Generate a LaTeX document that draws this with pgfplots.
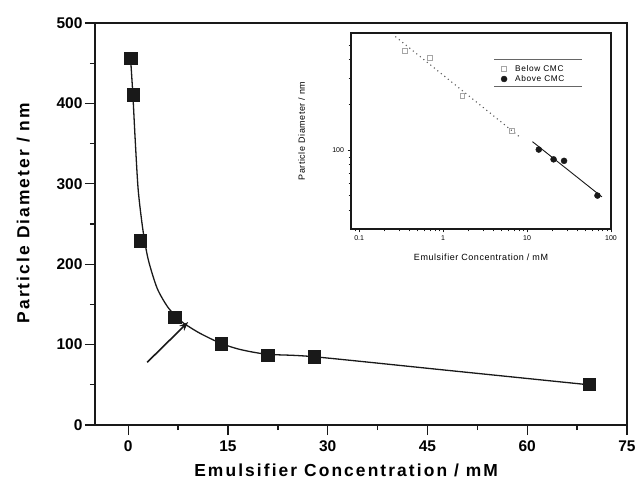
\documentclass[border=0pt]{standalone}
\usepackage{pgfplots}
\pgfplotsset{compat=1.18}
\usepackage{fontspec}
\setmainfont{Liberation Sans}
\usetikzlibrary{arrows.meta}
\definecolor{ink}{gray}{0.1}
\begin{document}
\begin{tikzpicture}
\begin{axis}[
  name=main, at={(0,0)}, anchor=south west,
  scale only axis, width=532pt, height=402pt,
  xmin=-5, xmax=75, ymin=0, ymax=500,
  xtick={0,15,30,45,60,75}, minor xtick={7.5,22.5,37.5,52.5,67.5},
  ytick={0,100,200,300,400,500}, minor ytick={50,150,250,350,450},
  tick align=outside, tick pos=left,
  major tick length=10pt, minor tick length=5pt,
  axis line style={line width=1.6pt, ink},
  every tick/.style={line width=1.3pt, ink},
  /pgf/number format/assume math mode=true,
  ticklabel style={font=\fontsize{15.5}{18}\selectfont\bfseries},
  xticklabel style={yshift=-2pt},
  yticklabel style={xshift=1pt},
  xlabel={\addfontfeatures{LetterSpace=12}Emulsifier Concentration / mM},
  ylabel={\addfontfeatures{LetterSpace=12}Particle Diameter / nm},
  label style={font=\fontsize{17.4}{20}\selectfont\bfseries},
  xlabel style={at={(axis description cs:0.472,-0.088)}, anchor=north},
  ylabel style={at={(axis description cs:-0.135,0.527)}, anchor=center},
  clip=false,
]
\addplot[ink, line width=1.3pt, smooth, tension=0.45, forget plot] coordinates {
 (0.35,456) (0.7,410) (1.05,354) (1.5,292) (2.2,243) (3.0,206) (4.35,170)
 (6.0,146) (7.8,130) (9.0,123) (10.8,114) (13.8,102) (16.8,94) (20.9,88)
 (27.8,85) (48,68) (69.3,50)};
\addplot[only marks, mark=square*, mark size=6.2pt, mark options={fill=ink, draw=ink}] coordinates {
 (0.35,456) (0.7,411) (1.8,229) (7,134) (14,101) (21,87) (28,85) (69.3,51)};
\draw[-{Stealth[length=9pt,width=7pt]}, line width=1.6pt, ink] (axis cs:2.85,78) -- (axis cs:9.0,128);
\end{axis}
\begin{axis}[
  at={(256pt,196pt)}, anchor=south west,
  scale only axis, width=260pt, height=196pt,
  xmode=log, ymode=log,
  xmin=0.08, xmax=100, ymin=30, ymax=600,
  xtick={0.1,1,10,100}, xticklabels={0.1,1,10,100},
  minor xtick={0.09,0.2,0.3,0.4,0.5,0.6,0.7,0.8,0.9,2,3,4,5,6,7,8,9,20,30,40,50,60,70,80,90},
  ytick={100}, yticklabels={100},
  minor ytick={40,50,60,70,80,90,200,300,400,500},
  tick align=outside, tick pos=left,
  major tick length=3.5pt, minor tick length=2.5pt,
  axis line style={line width=1.1pt, ink},
  every tick/.style={line width=0.8pt, ink},
  /pgf/number format/assume math mode=true,
  ticklabel style={font=\fontsize{7}{8}\selectfont},
  xlabel={\addfontfeatures{LetterSpace=6}Emulsifier Concentration / mM},
  ylabel={\addfontfeatures{LetterSpace=6}Particle Diameter / nm},
  label style={font=\fontsize{9}{10}\selectfont},
  xlabel style={at={(axis description cs:0.5,-0.11)}, anchor=north},
  ylabel style={at={(axis description cs:-0.19,0.5)}, anchor=center},
  legend style={draw=none, fill=none, at={(rel axis cs:0.565,0.857)}, anchor=north west,
    font=\fontsize{8.3}{9.5}\selectfont\addfontfeatures{LetterSpace=8}, row sep=-1.5pt,
    /tikz/every odd column/.append style={column sep=6pt}},
  legend image code/.code={\draw[#1] plot coordinates {(0.15cm,0cm)};},
  legend cell align=left,
  clip=false,
]
\addplot[gray!70!black, line width=1.1pt, dash pattern=on 1.1pt off 3.4pt, forget plot] coordinates {(0.27,568) (8.4,121)};
\addplot[ink, line width=0.9pt, forget plot] coordinates {(11.6,114) (78,49)};
\addplot[only marks, mark=square, mark size=2.4pt, mark options={draw=gray!70, line width=0.8pt}] coordinates {
 (0.35,456) (0.7,411) (1.7,229) (6.6,134)};
\addlegendentry{Below CMC}
\addplot[only marks, mark=*, mark size=3pt, mark options={fill=ink, draw=ink}] coordinates {
 (13.8,101) (20.7,87) (27.6,85) (69,50)};
\addlegendentry{Above CMC}
\draw[gray!80!black, line width=0.6pt] (rel axis cs:0.55,0.867) -- (rel axis cs:0.888,0.867);
\draw[gray!80!black, line width=0.6pt] (rel axis cs:0.55,0.73) -- (rel axis cs:0.888,0.73);
\end{axis}
\pgfresetboundingbox
\path (-95pt,-58pt) rectangle (543pt,425pt);
\end{tikzpicture}
\end{document}
